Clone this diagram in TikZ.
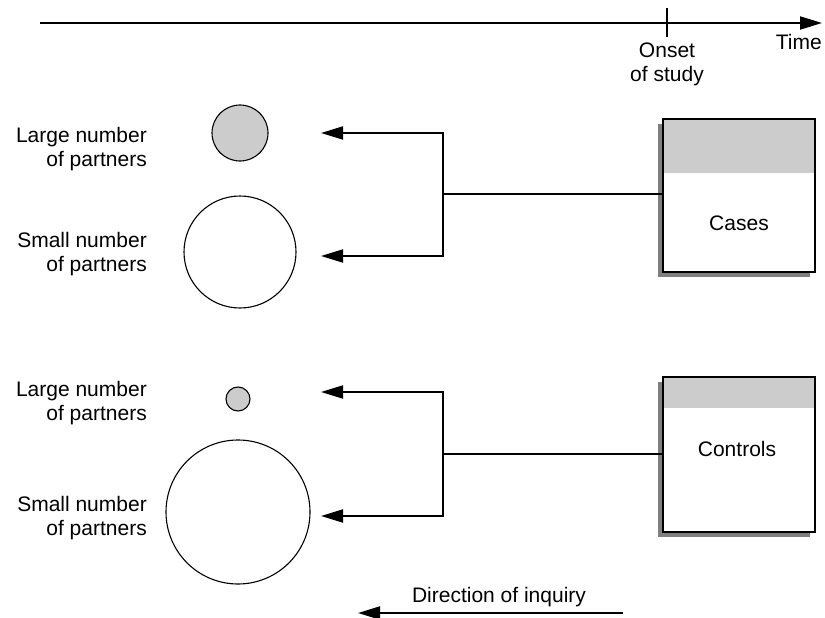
\documentclass[tikz,border=0pt]{standalone}
\usepackage{fontspec}
\setmainfont{Liberation Sans}
\usetikzlibrary{arrows.meta,shadows}
\definecolor{lightfill}{HTML}{CCCCCC}
\definecolor{shadowgray}{HTML}{7F7F7F}
\begin{document}
\begin{tikzpicture}[x=1pt,y=-1pt,
  txt/.style={font=\fontsize{21}{24}\selectfont, inner sep=0pt},
  lbl/.style={txt, align=right, anchor=east},
  wire/.style={line width=2pt},
  tip/.style={-{Triangle[length=22pt,width=13pt]}},
  groupbox/.style={draw, line width=1.6pt, fill=white, inner sep=0pt,
    minimum width=152pt, minimum height=#1,
    general shadow={fill=shadowgray, shadow xshift=-5pt, shadow yshift=-5pt}},
  header/.style={path picture={\fill[lightfill] (path picture bounding box.north west)
    rectangle ([yshift=-#1]path picture bounding box.north east);}},
  blob/.style={circle, draw, line width=1.1pt, inner sep=0pt, minimum size=#1},
]
\useasboundingbox (0,0) rectangle (825,618);

% time axis with the onset marker
\coordinate (t0) at (40,23);
\coordinate (t1) at (822,23);
\coordinate (k0) at (667,8);
\coordinate (k1) at (667,37);
\draw[wire,tip] (t0) -- (t1);
\draw[line width=1.2pt] (k0) -- (k1);
\node[txt, anchor=base east] (time) at (822,50) {Time};
\node[txt, align=center, anchor=north] (onset) at (667,43) {Onset\\of study};

% study groups
\node[groupbox=153pt, header=54pt] (cases) at (739,195.5) {};
\node[txt, anchor=base] (casestxt) at (739,230) {Cases};
\node[groupbox=155pt, header=31pt] (controls) at (739,454.5) {};
\node[txt, anchor=base] (controlstxt) at (737,456) {Controls};

% exposure groups found by looking back
\node[blob=56pt, fill=lightfill] (cl) at (240,133) {};
\node[blob=112pt, fill=white] (cs) at (240,252) {};
\node[blob=24pt, fill=lightfill] (kl) at (238,399) {};
\node[blob=144pt, fill=white] (ks) at (238,512) {};

\node[lbl] (cltxt) at (147,149.5) {Large number\\of partners};
\node[lbl] (cstxt) at (147,254.5) {Small number\\of partners};
\node[lbl] (kltxt) at (147,403.5) {Large number\\of partners};
\node[lbl] (kstxt) at (147,518.5) {Small number\\of partners};

% branching connectors
\coordinate (cj) at (443,194);
\coordinate (ca1) at (321,133);
\coordinate (ca2) at (321,256);
\draw[wire] (cj -| cases.west) -- (cj);
\draw[wire,tip] (cj) |- (ca1);
\draw[wire,tip] (cj) |- (ca2);

\coordinate (kj) at (443,454);
\coordinate (ka1) at (321,392);
\coordinate (ka2) at (321,516);
\draw[wire] (kj -| controls.west) -- (kj);
\draw[wire,tip] (kj) |- (ka1);
\draw[wire,tip] (kj) |- (ka2);

% direction of inquiry
\coordinate (d0) at (623,613);
\coordinate (d1) at (358,613);
\draw[wire,tip] (d0) -- (d1);
\node[txt, anchor=base] (dirtxt) at (499,602) {Direction of inquiry};
\end{tikzpicture}
\end{document}
